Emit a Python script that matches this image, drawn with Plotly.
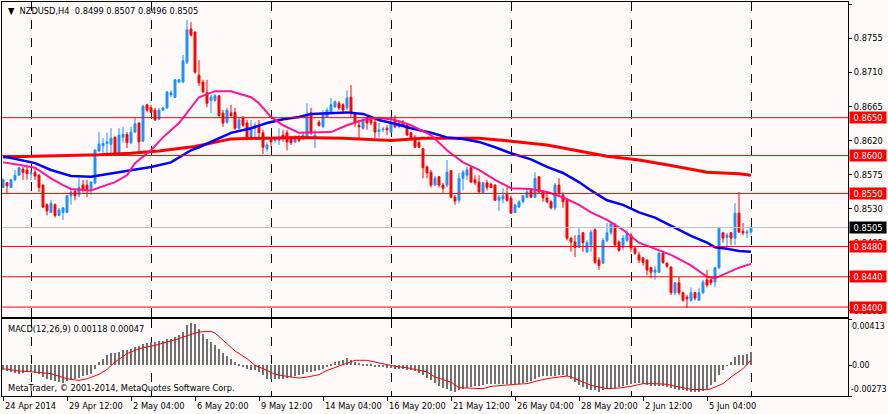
import plotly.graph_objects as go

# ---- price data (NZDUSD H4) ----
opens = [
    0.8558, 0.8564, 0.8558, 0.8568, 0.8574, 0.8582, 0.8581, 0.8576, 0.8578, 0.8574,
    0.8561, 0.8535, 0.8525, 0.8535, 0.8521, 0.8525, 0.8525, 0.8547, 0.8553, 0.8548,
    0.8561, 0.8561, 0.8556, 0.8564, 0.8606, 0.8613, 0.8616, 0.8615, 0.8624, 0.8603,
    0.8624, 0.8628, 0.8617, 0.8631, 0.8643, 0.8619, 0.8667, 0.8663, 0.8660, 0.8648,
    0.8660, 0.8663, 0.8680, 0.8677, 0.8697, 0.8697, 0.8723, 0.8767, 0.8763, 0.8706,
    0.8697, 0.8683, 0.8673, 0.8673, 0.8679, 0.8656, 0.8644, 0.8656, 0.8657, 0.8636,
    0.8650, 0.8643, 0.8623, 0.8636, 0.8638, 0.8630, 0.8609, 0.8621, 0.8620, 0.8620,
    0.8627, 0.8630, 0.8623, 0.8618, 0.8624, 0.8623, 0.8624, 0.8656, 0.8624, 0.8644,
    0.8638, 0.8651, 0.8657, 0.8664, 0.8669, 0.8667, 0.8663, 0.8677, 0.8656, 0.8640,
    0.8636, 0.8650, 0.8647, 0.8644, 0.8632, 0.8634, 0.8636, 0.8631, 0.8647, 0.8638,
    0.8644, 0.8640, 0.8630, 0.8624, 0.8617, 0.8609, 0.8585, 0.8578, 0.8561, 0.8572,
    0.8561, 0.8561, 0.8580, 0.8545, 0.8541, 0.8570, 0.8574, 0.8584, 0.8568, 0.8565,
    0.8551, 0.8564, 0.8562, 0.8561, 0.8541, 0.8543, 0.8549, 0.8544, 0.8525, 0.8532,
    0.8539, 0.8545, 0.8554, 0.8545, 0.8572, 0.8552, 0.8544, 0.8539, 0.8531, 0.8561,
    0.8548, 0.8541, 0.8491, 0.8486, 0.8479, 0.8498, 0.8473, 0.8482, 0.8502, 0.8462,
    0.8458, 0.8488, 0.8498, 0.8508, 0.8486, 0.8479, 0.8488, 0.8495, 0.8478, 0.8469,
    0.8465, 0.8462, 0.8452, 0.8446, 0.8446, 0.8471, 0.8458, 0.8453, 0.8419, 0.8432,
    0.8419, 0.8413, 0.8409, 0.8419, 0.8409, 0.8419, 0.8436, 0.8436, 0.8433, 0.8452,
    0.8498, 0.8492, 0.8498, 0.8491, 0.8524, 0.8500, 0.8498, 0.8499,
]
highs = [
    0.8570, 0.8565, 0.8569, 0.8581, 0.8585, 0.8585, 0.8585, 0.8581, 0.8584, 0.8576,
    0.8562, 0.8537, 0.8541, 0.8537, 0.8531, 0.8532, 0.8548, 0.8557, 0.8554, 0.8570,
    0.8568, 0.8568, 0.8566, 0.8609, 0.8631, 0.8623, 0.8630, 0.8636, 0.8626, 0.8636,
    0.8638, 0.8631, 0.8638, 0.8651, 0.8644, 0.8667, 0.8668, 0.8667, 0.8663, 0.8663,
    0.8664, 0.8685, 0.8686, 0.8701, 0.8701, 0.8733, 0.8779, 0.8776, 0.8764, 0.8726,
    0.8700, 0.8700, 0.8680, 0.8681, 0.8680, 0.8660, 0.8663, 0.8667, 0.8663, 0.8650,
    0.8652, 0.8647, 0.8647, 0.8644, 0.8647, 0.8634, 0.8617, 0.8624, 0.8624, 0.8636,
    0.8634, 0.8634, 0.8626, 0.8627, 0.8627, 0.8630, 0.8669, 0.8663, 0.8634, 0.8647,
    0.8660, 0.8663, 0.8676, 0.8673, 0.8672, 0.8669, 0.8686, 0.8693, 0.8657, 0.8647,
    0.8650, 0.8651, 0.8650, 0.8647, 0.8643, 0.8638, 0.8640, 0.8653, 0.8653, 0.8647,
    0.8647, 0.8642, 0.8631, 0.8627, 0.8620, 0.8610, 0.8587, 0.8581, 0.8573, 0.8573,
    0.8564, 0.8594, 0.8581, 0.8548, 0.8577, 0.8581, 0.8585, 0.8586, 0.8574, 0.8574,
    0.8565, 0.8568, 0.8564, 0.8562, 0.8548, 0.8557, 0.8558, 0.8547, 0.8536, 0.8541,
    0.8548, 0.8557, 0.8557, 0.8578, 0.8572, 0.8554, 0.8551, 0.8541, 0.8564, 0.8570,
    0.8551, 0.8544, 0.8492, 0.8495, 0.8504, 0.8499, 0.8488, 0.8502, 0.8504, 0.8466,
    0.8491, 0.8511, 0.8511, 0.8511, 0.8488, 0.8495, 0.8502, 0.8498, 0.8479, 0.8473,
    0.8466, 0.8463, 0.8453, 0.8454, 0.8473, 0.8473, 0.8459, 0.8453, 0.8433, 0.8440,
    0.8420, 0.8416, 0.8426, 0.8420, 0.8425, 0.8436, 0.8449, 0.8437, 0.8453, 0.8506,
    0.8499, 0.8498, 0.8499, 0.8537, 0.8552, 0.8511, 0.8502, 0.8507,
]
lows = [
    0.8557, 0.8549, 0.8557, 0.8566, 0.8573, 0.8568, 0.8568, 0.8568, 0.8568, 0.8552,
    0.8531, 0.8521, 0.8524, 0.8518, 0.8520, 0.8515, 0.8524, 0.8535, 0.8541, 0.8545,
    0.8551, 0.8545, 0.8548, 0.8562, 0.8605, 0.8603, 0.8603, 0.8603, 0.8602, 0.8601,
    0.8617, 0.8610, 0.8615, 0.8630, 0.8603, 0.8618, 0.8657, 0.8656, 0.8646, 0.8647,
    0.8659, 0.8661, 0.8677, 0.8676, 0.8696, 0.8696, 0.8721, 0.8757, 0.8708, 0.8692,
    0.8683, 0.8664, 0.8656, 0.8671, 0.8651, 0.8638, 0.8642, 0.8651, 0.8634, 0.8634,
    0.8638, 0.8620, 0.8620, 0.8624, 0.8624, 0.8602, 0.8605, 0.8611, 0.8617, 0.8614,
    0.8618, 0.8607, 0.8614, 0.8617, 0.8618, 0.8620, 0.8623, 0.8627, 0.8610, 0.8638,
    0.8636, 0.8650, 0.8656, 0.8663, 0.8660, 0.8657, 0.8660, 0.8651, 0.8638, 0.8623,
    0.8634, 0.8634, 0.8640, 0.8623, 0.8624, 0.8631, 0.8627, 0.8630, 0.8636, 0.8636,
    0.8638, 0.8626, 0.8620, 0.8610, 0.8610, 0.8570, 0.8570, 0.8558, 0.8560, 0.8558,
    0.8551, 0.8558, 0.8544, 0.8535, 0.8537, 0.8554, 0.8568, 0.8564, 0.8561, 0.8551,
    0.8549, 0.8554, 0.8557, 0.8540, 0.8527, 0.8537, 0.8539, 0.8523, 0.8524, 0.8531,
    0.8537, 0.8544, 0.8544, 0.8544, 0.8551, 0.8539, 0.8537, 0.8529, 0.8528, 0.8548,
    0.8531, 0.8488, 0.8473, 0.8466, 0.8478, 0.8473, 0.8471, 0.8473, 0.8457, 0.8449,
    0.8457, 0.8486, 0.8495, 0.8479, 0.8473, 0.8475, 0.8486, 0.8473, 0.8469, 0.8458,
    0.8455, 0.8442, 0.8438, 0.8436, 0.8445, 0.8457, 0.8452, 0.8416, 0.8416, 0.8416,
    0.8407, 0.8399, 0.8407, 0.8409, 0.8408, 0.8417, 0.8426, 0.8429, 0.8426, 0.8450,
    0.8485, 0.8479, 0.8482, 0.8482, 0.8498, 0.8495, 0.8491, 0.8496,
]
closes = [
    0.8568, 0.8560, 0.8568, 0.8574, 0.8584, 0.8578, 0.8576, 0.8577, 0.8573, 0.8558,
    0.8532, 0.8527, 0.8537, 0.8521, 0.8528, 0.8531, 0.8547, 0.8552, 0.8547, 0.8558,
    0.8554, 0.8556, 0.8565, 0.8607, 0.8615, 0.8616, 0.8618, 0.8623, 0.8603, 0.8627,
    0.8628, 0.8617, 0.8631, 0.8642, 0.8618, 0.8665, 0.8660, 0.8657, 0.8647, 0.8660,
    0.8663, 0.8684, 0.8683, 0.8700, 0.8700, 0.8725, 0.8766, 0.8759, 0.8710, 0.8696,
    0.8684, 0.8669, 0.8677, 0.8679, 0.8653, 0.8643, 0.8660, 0.8653, 0.8636, 0.8647,
    0.8640, 0.8624, 0.8636, 0.8640, 0.8630, 0.8611, 0.8614, 0.8618, 0.8623, 0.8624,
    0.8624, 0.8618, 0.8617, 0.8623, 0.8620, 0.8627, 0.8653, 0.8630, 0.8627, 0.8640,
    0.8656, 0.8660, 0.8667, 0.8671, 0.8663, 0.8660, 0.8676, 0.8656, 0.8643, 0.8638,
    0.8647, 0.8643, 0.8643, 0.8631, 0.8634, 0.8635, 0.8634, 0.8644, 0.8638, 0.8643,
    0.8639, 0.8627, 0.8623, 0.8611, 0.8611, 0.8584, 0.8577, 0.8561, 0.8570, 0.8561,
    0.8557, 0.8578, 0.8545, 0.8540, 0.8570, 0.8578, 0.8581, 0.8565, 0.8564, 0.8552,
    0.8564, 0.8558, 0.8558, 0.8541, 0.8545, 0.8547, 0.8541, 0.8524, 0.8535, 0.8539,
    0.8547, 0.8552, 0.8545, 0.8570, 0.8552, 0.8544, 0.8539, 0.8531, 0.8561, 0.8551,
    0.8539, 0.8491, 0.8486, 0.8479, 0.8495, 0.8485, 0.8485, 0.8499, 0.8459, 0.8455,
    0.8488, 0.8498, 0.8510, 0.8482, 0.8475, 0.8491, 0.8498, 0.8478, 0.8471, 0.8462,
    0.8459, 0.8449, 0.8446, 0.8449, 0.8471, 0.8459, 0.8454, 0.8419, 0.8432, 0.8419,
    0.8409, 0.8411, 0.8419, 0.8412, 0.8419, 0.8433, 0.8429, 0.8432, 0.8452, 0.8504,
    0.8491, 0.8495, 0.8491, 0.8524, 0.8499, 0.8498, 0.8499, 0.8505,
]

# moving averages, sampled along the chart (bar index, price)
ma_fast_idx = [0, 4, 8, 10, 12, 15, 17, 22, 25, 28, 31, 33, 37, 40, 44, 47, 49, 53,
               57, 62, 64, 67, 70, 74, 77, 82, 86, 90, 94, 98, 102, 107, 111, 115,
               119, 123, 127, 132, 136, 140, 144, 147, 151, 155, 159, 163, 167, 172,
               176, 178, 181, 184, 187]
ma_fast = [0.8591, 0.8588, 0.8584, 0.8577, 0.8570, 0.8561, 0.8556, 0.8554, 0.8560,
           0.8565, 0.8574, 0.8590, 0.8607, 0.8624, 0.8643, 0.8663, 0.8677, 0.8685,
           0.8685, 0.8677, 0.8669, 0.8651, 0.8640, 0.8630, 0.8630, 0.8631, 0.8640,
           0.8647, 0.8650, 0.8647, 0.8640, 0.8627, 0.8607, 0.8591, 0.8581, 0.8568,
           0.8557, 0.8556, 0.8552, 0.8545, 0.8535, 0.8525, 0.8515, 0.8502, 0.8485,
           0.8477, 0.8469, 0.8455, 0.8440, 0.8438, 0.8445, 0.8452, 0.8457]

ma_mid_idx = [0, 8, 12, 17, 22, 27, 32, 37, 42, 47, 49, 53, 57, 62, 66, 70, 74, 77,
              86, 90, 94, 98, 102, 107, 111, 115, 119, 123, 127, 132, 136, 140, 144,
              147, 151, 155, 159, 163, 167, 172, 176, 178, 181, 184, 187]
ma_mid = [0.8599, 0.8590, 0.8581, 0.8573, 0.8572, 0.8576, 0.8581, 0.8585, 0.8591,
          0.8607, 0.8611, 0.8620, 0.8630, 0.8636, 0.8643, 0.8648, 0.8651, 0.8655,
          0.8657, 0.8655, 0.8647, 0.8642, 0.8636, 0.8630, 0.8624, 0.8622, 0.8618,
          0.8611, 0.8603, 0.8595, 0.8585, 0.8577, 0.8565, 0.8554, 0.8541, 0.8535,
          0.8525, 0.8518, 0.8507, 0.8494, 0.8485, 0.8479, 0.8477, 0.8474, 0.8473]

ma_slow_idx = [0, 9, 24, 32, 39, 48, 57, 66, 74, 85, 97, 105, 111, 119, 127, 136,
               144, 151, 159, 167, 176, 184, 187]
ma_slow = [0.8598, 0.8599, 0.8601, 0.8603, 0.8606, 0.8612, 0.8622, 0.8623, 0.8624,
           0.8623, 0.8620, 0.8623, 0.8623, 0.8623, 0.8619, 0.8614, 0.8606, 0.8599,
           0.8594, 0.8587, 0.8578, 0.8576, 0.8574]

# horizontal levels drawn on the chart
levels = [0.8650, 0.8600, 0.8550, 0.8480, 0.8440, 0.8400]

# MACD(12,26,9) histogram and signal
macd_hist = [
    -0.00045, -0.0005, -0.0006, -0.00068, -0.00074, -0.00068, -0.00062, -0.00062, -0.00068, -0.0008,
    -0.00104, -0.00119, -0.00128, -0.0014, -0.00149, -0.00155, -0.00143, -0.00134, -0.00125, -0.0011,
    -0.00098, -0.00089, -0.00074, -0.0003, 0.0003, 0.0006, 0.00089, 0.00113, 0.00113, 0.00119,
    0.00134, 0.0014, 0.00149, 0.00163, 0.00169, 0.00193, 0.00202, 0.00208, 0.00208, 0.00214,
    0.00217, 0.00232, 0.00238, 0.00252, 0.00267, 0.00297, 0.00356, 0.00377, 0.00365, 0.00327,
    0.00282, 0.00238, 0.00208, 0.00178, 0.00149, 0.0011, 0.0008, 0.0006, 0.0003, 0.00015,
    -0.00009, -0.0003, -0.00039, -0.00045, -0.0006, -0.00089, -0.00119, -0.00125, -0.00125, -0.00122,
    -0.00119, -0.00113, -0.00104, -0.00098, -0.00089, -0.00074, -0.0006, -0.0006, -0.0005, -0.00045,
    -0.0003, -0.00009, 0.00015, 0.0003, 0.00039, 0.0005, 0.00065, 0.0005, 0.0003, 0.00021,
    0.00015, 0.00009, 0.00006, -0.00006, -0.00009, -0.00015, -0.00021, -0.00024, -0.0003, -0.00033,
    -0.00036, -0.00039, -0.00045, -0.00053, -0.00065, -0.00089, -0.00113, -0.00134, -0.00157, -0.00181,
    -0.00199, -0.00214, -0.00232, -0.00238, -0.00223, -0.00208, -0.00199, -0.00193, -0.00187, -0.00181,
    -0.00175, -0.00169, -0.00169, -0.00169, -0.00169, -0.00169, -0.00169, -0.00169, -0.00169, -0.00163,
    -0.00157, -0.00149, -0.0014, -0.00119, -0.00104, -0.00098, -0.00098, -0.00098, -0.00092, -0.00089,
    -0.00089, -0.00098, -0.00119, -0.00149, -0.00178, -0.00193, -0.00208, -0.00217, -0.00223, -0.00238,
    -0.00223, -0.00208, -0.00202, -0.00199, -0.00193, -0.00187, -0.00178, -0.00163, -0.00157, -0.00157,
    -0.00163, -0.00178, -0.00181, -0.00187, -0.00187, -0.00187, -0.0019, -0.00199, -0.00208, -0.00217,
    -0.00223, -0.00229, -0.00235, -0.00238, -0.00235, -0.00229, -0.00208, -0.00178, -0.00149, -0.00089,
    -0.00045, -0.00003, 0.0003, 0.00074, 0.00089, 0.00095, 0.00104, 0.00118,
]
signal_idx = [0, 4, 8, 12, 16, 19, 21, 24, 26, 28, 31, 34, 38, 41, 44, 47, 49, 52, 53,
              56, 58, 61, 63, 66, 68, 72, 74, 76, 79, 81, 84, 86, 88, 91, 93, 96, 98,
              101, 103, 106, 108, 111, 112, 114, 118, 120, 122, 125, 128, 131, 134,
              137, 141, 142, 144, 147, 151, 154, 157, 160, 163, 166, 169, 172, 176,
              177, 180, 182, 185, 187]
signal = [-0.0003, -0.0005, -0.0006, -0.00074, -0.00119, -0.00134, -0.00119, -0.0008,
          -0.00036, 0.0003, 0.00104, 0.00149, 0.00178, 0.00208, 0.00238, 0.00276,
          0.00297, 0.00303, 0.00288, 0.00193, 0.00128, 0.0006, 0.0, -0.00045, -0.0008,
          -0.00104, -0.00113, -0.00104, -0.00083, -0.00045, -0.00006, 0.00024, 0.00045,
          0.00045, 0.0003, 0.00009, -0.00009, -0.00021, -0.00036, -0.00059, -0.00104,
          -0.00143, -0.00149, -0.00199, -0.00208, -0.00208, -0.00187, -0.00175, -0.00169,
          -0.00163, -0.00134, -0.00113, -0.00095, -0.00104, -0.00134, -0.00178, -0.00208,
          -0.00202, -0.00187, -0.00163, -0.00163, -0.00169, -0.00193, -0.00214, -0.00217,
          -0.00208, -0.00163, -0.00104, -0.0003, 0.00047]
macd_max = 0.00413
macd_min = -0.00273

# time axis labels (bar index of each label) and dashed grid positions
xlabel_idx = [0, 16, 32, 48, 64, 80, 96, 112, 128, 144, 160, 176]
xlabel_txt = ["24 Apr 2014", "29 Apr 12:00", "2 May 04:00", "6 May 20:00",
              "9 May 12:00", "14 May 04:00", "16 May 20:00", "21 May 12:00",
              "26 May 04:00", "28 May 20:00", "2 Jun 12:00", "5 Jun 04:00"]
grid_idx = [7, 37, 67, 97, 127, 157, 187]

bars = list(range(len(closes)))

BG = "#FFFAFA"
UP = "#1E90FF"
DN = "#FF0000"
FONT = "DejaVu Sans Condensed, DejaVu Sans, sans-serif"
FS = 9.2
FS_MACD_AXIS = 8.8

fig = go.Figure()

fig.add_trace(go.Candlestick(
    x=bars, open=opens, high=highs, low=lows, close=closes,
    increasing=dict(line=dict(color=UP, width=1), fillcolor=UP),
    decreasing=dict(line=dict(color=DN, width=1), fillcolor=DN),
    whiskerwidth=0, showlegend=False, hoverinfo="skip",
    xaxis="x", yaxis="y",
))
fig.add_trace(go.Scatter(x=ma_slow_idx, y=ma_slow, mode="lines",
                         line=dict(color="#FF0000", width=3), showlegend=False,
                         hoverinfo="skip", xaxis="x", yaxis="y"))
fig.add_trace(go.Scatter(x=ma_mid_idx, y=ma_mid, mode="lines",
                         line=dict(color="#0000FF", width=2.5), showlegend=False,
                         hoverinfo="skip", xaxis="x", yaxis="y"))
fig.add_trace(go.Scatter(x=ma_fast_idx, y=ma_fast, mode="lines",
                         line=dict(color="#FF1493", width=2), showlegend=False,
                         hoverinfo="skip", xaxis="x", yaxis="y"))

fig.add_trace(go.Bar(x=bars, y=macd_hist, marker=dict(color="#707070", line=dict(width=0)),
                     width=0.55, showlegend=False, hoverinfo="skip",
                     xaxis="x2", yaxis="y2"))
fig.add_trace(go.Scatter(x=signal_idx, y=signal, mode="lines",
                         line=dict(color="#FF0000", width=1), showlegend=False,
                         hoverinfo="skip", xaxis="x2", yaxis="y2"))

# horizontal levels and bid line
for lvl in levels:
    fig.add_shape(type="line", xref="paper", x0=0, x1=1, yref="y", y0=lvl, y1=lvl,
                  line=dict(color="#FF0000", width=1))
bid = closes[-1]
fig.add_shape(type="line", xref="paper", x0=0, x1=1, yref="y", y0=bid, y1=bid,
              line=dict(color="#C0C0C0", width=1))

xr = [-0.25, 211.25]
xcommon = dict(range=xr, showticklabels=False, tickmode="array", tickvals=grid_idx,
               showgrid=True, gridcolor="black", griddash="dash", gridwidth=1,
               ticks="", showline=True, linecolor="black", linewidth=1, mirror=True,
               zeroline=False)

annotations = []
annotations.append(dict(
    xref="paper", yref="paper", x=0, y=1, xanchor="left", yanchor="top",
    xshift=4, yshift=-1, showarrow=False,
    text="▼&nbsp; NZDUSD,H4&nbsp; %.4f %.4f %.4f %.4f" % (opens[-1], highs[-1], lows[-1], closes[-1]),
    font=dict(family=FONT, size=FS, color="black")))
annotations.append(dict(
    xref="paper", yref="paper", x=0, y=0.1954, xanchor="left", yanchor="top",
    xshift=4, yshift=-2, showarrow=False,
    text="MACD(12,26,9) %.5f %.5f" % (macd_hist[-1], signal[-1]),
    font=dict(family=FONT, size=FS, color="black")))
annotations.append(dict(
    xref="paper", yref="paper", x=0, y=0, xanchor="left", yanchor="bottom",
    xshift=4, yshift=1, showarrow=False,
    text="MetaTrader, © 2001-2014, MetaQuotes Software Corp.",
    font=dict(family=FONT, size=FS, color="black")))
for i, t in zip(xlabel_idx, xlabel_txt):
    annotations.append(dict(
        xref="x2", yref="paper", x=i, y=0, xanchor="left", yanchor="top",
        yshift=-2, showarrow=False, text=t,
        font=dict(family=FONT, size=FS, color="black")))
for lvl in levels:
    annotations.append(dict(
        xref="paper", yref="y", x=1, y=lvl, xanchor="left", yanchor="middle",
        xshift=1, showarrow=False, text="%.4f" % lvl, bgcolor="#FF0000",
        width=36, height=11, align="center", borderpad=0,
        font=dict(family=FONT, size=FS, color="white")))
annotations.append(dict(
    xref="paper", yref="y", x=1, y=bid, xanchor="left", yanchor="middle",
    xshift=1, showarrow=False, text="%.4f" % bid, bgcolor="black",
    width=36, height=11, align="center", borderpad=0,
    font=dict(family=FONT, size=FS, color="white")))
annotations.append(dict(
    xref="paper", yref="y2", x=1, y=macd_max, xanchor="left", yanchor="top",
    xshift=2, showarrow=False, text="%.5f" % macd_max,
    font=dict(family=FONT, size=FS_MACD_AXIS, color="black")))
annotations.append(dict(
    xref="paper", yref="y2", x=1, y=0, xanchor="left", yanchor="middle",
    xshift=2, showarrow=False, text="0.00",
    font=dict(family=FONT, size=FS_MACD_AXIS, color="black")))
annotations.append(dict(
    xref="paper", yref="y2", x=1, y=macd_min, xanchor="left", yanchor="bottom",
    xshift=1, showarrow=False, text="%.5f" % macd_min,
    font=dict(family=FONT, size=FS_MACD_AXIS, color="black")))

fig.update_layout(
    width=888, height=414,
    margin=dict(l=2, r=40, t=2, b=18),
    paper_bgcolor=BG, plot_bgcolor=BG,
    font=dict(family=FONT, size=FS, color="black"),
    showlegend=False, bargap=0,
    xaxis=dict(domain=[0, 1], anchor="y", rangeslider=dict(visible=False), **xcommon),
    xaxis2=dict(domain=[0, 1], anchor="y2", matches="x",
                minor=dict(tickmode="array", tickvals=xlabel_idx, ticks="outside",
                           ticklen=4, tickcolor="black", showgrid=False),
                **xcommon),
    yaxis=dict(domain=[0.2005, 1], anchor="x", side="right",
               range=[0.83869, 0.88027], tickmode="linear", tick0=0.8395, dtick=0.0045,
               tickformat=".4f", ticks="outside", ticklen=3, tickcolor="black",
               showgrid=False, showline=True, linecolor="black", linewidth=1,
               mirror=True, zeroline=False,
               tickfont=dict(family=FONT, size=FS, color="black")),
    yaxis2=dict(domain=[0, 0.1954], anchor="x2", side="right",
                range=[macd_min, macd_max], tickmode="array",
                tickvals=[macd_min, 0, macd_max], showticklabels=False,
                ticks="outside", ticklen=3, tickcolor="black",
                showgrid=False, showline=True, linecolor="black", linewidth=1,
                mirror=True, zeroline=False),
    annotations=annotations,
)

# the page's default body margin would push the 888x414 figure off the window
fig.write_html("out.html", config={"displayModeBar": False},
               post_script="document.body.style.margin='0';")
